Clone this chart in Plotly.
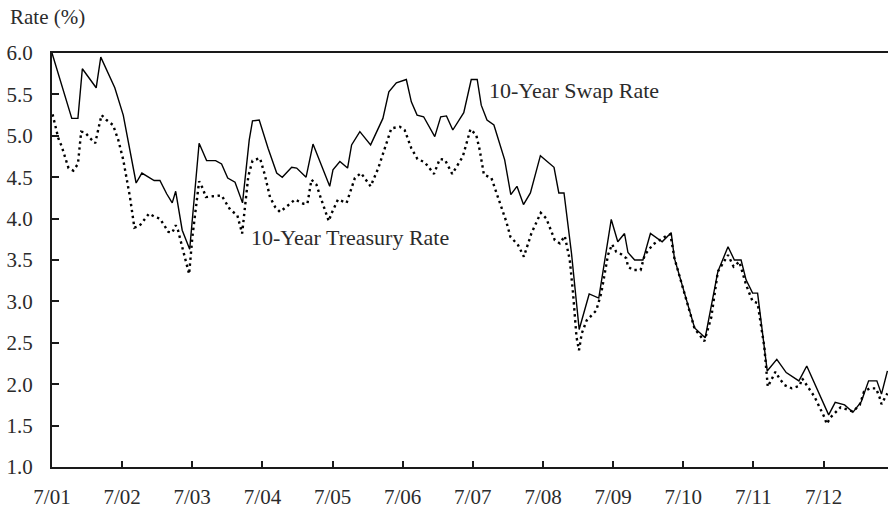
import plotly.graph_objects as go

# 10-year swap rate (%), turning points of the series
swap_dates = [
    "2001-07-01", "2001-10-12", "2001-11-13", "2001-12-06", "2002-02-16", "2002-03-12",
    "2002-05-24", "2002-07-07", "2002-09-12", "2002-10-12", "2002-12-15", "2003-01-14",
    "2003-02-18", "2003-03-19", "2003-04-06", "2003-05-10", "2003-06-18", "2003-08-06",
    "2003-09-14", "2003-10-31", "2003-12-01", "2004-01-02", "2004-02-09", "2004-03-19",
    "2004-04-23", "2004-05-10", "2004-06-14", "2004-07-30", "2004-09-13", "2004-10-12",
    "2004-11-30", "2004-12-26", "2005-02-13", "2005-03-21", "2005-06-16", "2005-07-03",
    "2005-08-08", "2005-09-17", "2005-10-08", "2005-11-20", "2006-01-15", "2006-03-20",
    "2006-04-20", "2006-05-29", "2006-07-20", "2006-08-15", "2006-09-14", "2006-10-18",
    "2006-12-15", "2007-01-15", "2007-02-14", "2007-03-19", "2007-05-15", "2007-06-23",
    "2007-07-24", "2007-08-14", "2007-09-13", "2007-10-19", "2007-12-14", "2008-01-15",
    "2008-02-16", "2008-03-21", "2008-04-26", "2008-06-17", "2008-08-27", "2008-09-21",
    "2008-10-18", "2008-11-26", "2009-01-05", "2009-02-26", "2009-04-17", "2009-06-21",
    "2009-07-25", "2009-08-29", "2009-09-16", "2009-10-21", "2009-12-03", "2010-01-11",
    "2010-03-13", "2010-04-29", "2010-05-16", "2010-08-29", "2010-10-23", "2010-12-28",
    "2011-02-19", "2011-03-24", "2011-04-28", "2011-05-24", "2011-06-27", "2011-07-23",
    "2011-09-11", "2011-10-31", "2011-12-19", "2012-02-23", "2012-04-04", "2012-07-27",
    "2012-08-30", "2012-10-18", "2012-11-30", "2013-01-13", "2013-02-20", "2013-04-04",
    "2013-04-28", "2013-05-29",
]
swap_rate = [
    6.00, 5.21, 5.21, 5.81, 5.58, 5.95,
    5.58, 5.25, 4.43, 4.55, 4.46, 4.46,
    4.30, 4.19, 4.33, 3.86, 3.63, 4.91,
    4.70, 4.70, 4.66, 4.49, 4.44, 4.19,
    4.95, 5.18, 5.19, 4.85, 4.55, 4.50,
    4.62, 4.61, 4.50, 4.90, 4.39, 4.59,
    4.69, 4.61, 4.89, 5.05, 4.89, 5.21,
    5.53, 5.64, 5.68, 5.41, 5.25, 5.23,
    4.99, 5.23, 5.24, 5.07, 5.28, 5.68,
    5.68, 5.37, 5.19, 5.13, 4.71, 4.29,
    4.39, 4.17, 4.31, 4.76, 4.62, 4.31,
    4.31, 3.58, 2.66, 3.09, 3.04, 3.99,
    3.72, 3.82, 3.59, 3.50, 3.50, 3.82,
    3.72, 3.83, 3.52, 2.68, 2.56, 3.36,
    3.66, 3.50, 3.50, 3.26, 3.10, 3.10,
    2.16, 2.30, 2.14, 2.04, 2.22, 1.63,
    1.78, 1.75, 1.66, 1.79, 2.04, 2.04,
    1.88, 2.16,
]

# 10-year Treasury rate (%)
treasury_dates = [
    "2001-07-04", "2001-08-03", "2001-08-21", "2001-09-25", "2001-10-20", "2001-11-13",
    "2001-11-30", "2001-12-20", "2002-01-16", "2002-02-11", "2002-03-02", "2002-03-16",
    "2002-04-11", "2002-05-15", "2002-06-11", "2002-07-07", "2002-08-11", "2002-09-03",
    "2002-09-29", "2002-11-18", "2002-12-19", "2003-01-14", "2003-02-27", "2003-03-19",
    "2003-04-06", "2003-04-18", "2003-05-14", "2003-06-10", "2003-06-15", "2003-07-02",
    "2003-07-23", "2003-08-06", "2003-08-24", "2003-09-10", "2003-10-18", "2003-12-01",
    "2004-01-14", "2004-02-21", "2004-03-17", "2004-03-27", "2004-04-18", "2004-05-10",
    "2004-06-18", "2004-07-13", "2004-08-09", "2004-09-05", "2004-09-30", "2004-11-01",
    "2004-12-17", "2005-01-30", "2005-02-20", "2005-03-13", "2005-04-08", "2005-04-29",
    "2005-06-11", "2005-06-25", "2005-07-29", "2005-09-12", "2005-10-25", "2005-11-26",
    "2005-12-25", "2006-01-15", "2006-02-24", "2006-03-29", "2006-05-03", "2006-06-16",
    "2006-07-11", "2006-08-15", "2006-09-16", "2006-10-24", "2006-12-11", "2007-01-10",
    "2007-02-06", "2007-03-16", "2007-05-10", "2007-06-19", "2007-07-19", "2007-08-06",
    "2007-08-28", "2007-10-06", "2007-11-10", "2007-12-23", "2008-01-13", "2008-02-22",
    "2008-03-23", "2008-05-01", "2008-06-19", "2008-07-18", "2008-08-31", "2008-09-26",
    "2008-10-22", "2008-11-17", "2008-12-04", "2008-12-22", "2009-01-04", "2009-01-18",
    "2009-02-13", "2009-04-04", "2009-04-30", "2009-06-04", "2009-06-25", "2009-07-17",
    "2009-08-12", "2009-09-08", "2009-09-16", "2009-10-12", "2009-11-21", "2009-12-12",
    "2010-01-25", "2010-04-03", "2010-04-25", "2010-05-16", "2010-08-29", "2010-10-19",
    "2010-11-24", "2010-12-28", "2011-02-19", "2011-03-20", "2011-04-19", "2011-05-24",
    "2011-06-27", "2011-07-23", "2011-08-27", "2011-09-14", "2011-10-02", "2011-10-24",
    "2011-11-14", "2011-12-10", "2012-01-17", "2012-02-27", "2012-03-11", "2012-05-14",
    "2012-07-05", "2012-07-17", "2012-08-06", "2012-09-27", "2012-11-30", "2013-01-05",
    "2013-01-27", "2013-02-26", "2013-03-30", "2013-04-17", "2013-04-28", "2013-05-29",
]
treasury_rate = [
    5.26, 4.97, 4.87, 4.61, 4.58, 4.66,
    5.05, 5.04, 4.97, 4.91, 5.11, 5.25,
    5.19, 5.13, 4.95, 4.71, 4.26, 3.89,
    3.91, 4.06, 4.02, 4.00, 3.84, 3.83,
    3.92, 3.86, 3.62, 3.40, 3.33, 3.78,
    4.19, 4.45, 4.37, 4.26, 4.27, 4.28,
    4.11, 4.04, 3.82, 4.02, 4.51, 4.70,
    4.73, 4.53, 4.26, 4.14, 4.08, 4.14,
    4.23, 4.18, 4.18, 4.47, 4.41, 4.26,
    3.97, 4.06, 4.23, 4.19, 4.49, 4.55,
    4.46, 4.39, 4.61, 4.85, 5.09, 5.11,
    5.07, 4.85, 4.72, 4.68, 4.54, 4.72,
    4.71, 4.54, 4.75, 5.08, 5.01, 4.83,
    4.53, 4.49, 4.25, 3.96, 3.78, 3.68,
    3.54, 3.82, 4.07, 4.00, 3.74, 3.70,
    3.79, 3.50, 3.10, 2.57, 2.41, 2.61,
    2.77, 2.89, 3.10, 3.56, 3.69, 3.60,
    3.57, 3.52, 3.42, 3.38, 3.38, 3.56,
    3.69, 3.79, 3.81, 3.52, 2.67, 2.52,
    2.81, 3.36, 3.56, 3.42, 3.48, 3.20,
    3.00, 2.98, 2.45, 1.97, 2.05, 2.15,
    2.07, 1.99, 1.95, 1.98, 2.07, 1.85,
    1.60, 1.52, 1.60, 1.72, 1.67, 1.75,
    1.91, 1.95, 1.95, 1.85, 1.76, 1.89,
]

y_ticks = [1.0, 1.5, 2.0, 2.5, 3.0, 3.5, 4.0, 4.5, 5.0, 5.5, 6.0]

FONT = "Liberation Serif, Times New Roman, serif"
TEXT = "#2b2b2b"
INK = "#1a1a1a"

fig = go.Figure()
fig.add_trace(go.Scatter(
    x=treasury_dates, y=treasury_rate, mode="lines",
    line=dict(color="black", width=2.4, dash="2.4px,3.6px"),
    name="10-Year Treasury Rate", hoverinfo="x+y",
))
fig.add_trace(go.Scatter(
    x=swap_dates, y=swap_rate, mode="lines",
    line=dict(color="black", width=1.4),
    name="10-Year Swap Rate", hoverinfo="x+y",
))

fig.add_annotation(x="2007-09-12", y=5.55, text="10-Year Swap Rate",
                   showarrow=False, xanchor="left", yanchor="middle",
                   font=dict(family=FONT, size=22, color=TEXT))
fig.add_annotation(x="2004-04-21", y=3.77, text="10-Year Treasury Rate",
                   showarrow=False, xanchor="left", yanchor="middle",
                   font=dict(family=FONT, size=22, color=TEXT))
fig.add_annotation(xref="paper", yref="paper", x=-0.0526, y=1.087,
                   text="Rate (%)", showarrow=False,
                   xanchor="left", yanchor="middle",
                   font=dict(family=FONT, size=21, color=TEXT))

fig.update_layout(
    width=888, height=510,
    margin=dict(l=52, r=0, t=53, b=43),
    paper_bgcolor="white", plot_bgcolor="white",
    showlegend=False,
    font=dict(family=FONT, size=21, color=TEXT),
)
fig.update_xaxes(
    type="date",
    range=["2001-07-01", "2013-06-01"],
    tick0="2001-07-01", dtick="M12", tickformat="%-m/%y",
    ticks="inside", ticklen=6, tickwidth=2, tickcolor=INK,
    showline=True, linecolor=INK, linewidth=2, mirror=True,
    showgrid=False, zeroline=False,
    ticklabelstandoff=10,
)
fig.update_yaxes(
    range=[1.0, 6.0],
    tickvals=y_ticks, tickformat=".1f",
    ticks="inside", ticklen=7, tickwidth=2, tickcolor=INK,
    showline=True, linecolor=INK, linewidth=2, mirror=False,
    showgrid=False, zeroline=False,
    ticklabelstandoff=13,
)

fig.write_html("out.html")
